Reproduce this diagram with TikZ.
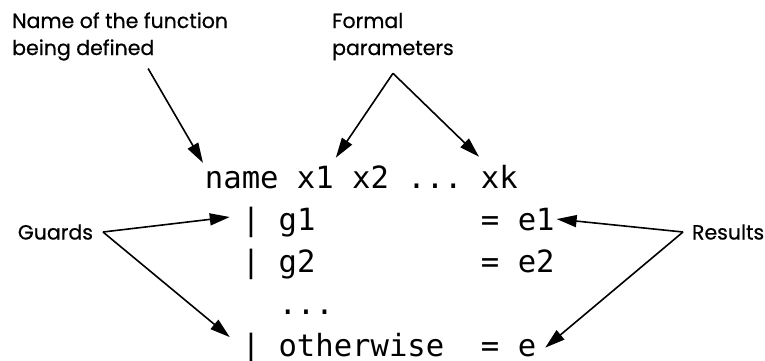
\documentclass[tikz,border=0pt]{standalone}
\usepackage{fontspec}
\setmainfont{Poppins}[FakeBold=0.6]
\setmonofont{DejaVu Sans Mono}
\usetikzlibrary{arrows.meta}

\begin{document}
\begin{tikzpicture}[x=1pt, y=-1pt,
  note/.style={font=\fontsize{20.5}{27}\selectfont, inner sep=0pt, anchor=base west},
  code/.style={font=\fontsize{30.6}{42}\selectfont\ttfamily, anchor=base, inner sep=0pt, outer xsep=2pt, outer ysep=8pt},
  bar/.style={code, outer xsep=12pt},
  pointer/.style={-{Triangle[length=20pt,width=12pt]}, line width=1.6pt}]
\useasboundingbox (0,0) rectangle (765,360);

% Labels
\node[note] (fnname) at (12,28) {Name of the function};
\node[note, outer ysep=8pt] (fnbeing) at (12,55) {being defined};
\node[note] (formal) at (332,28) {Formal};
\node[note, outer ysep=13pt] (params) at (332,55) {parameters};
\node[note, anchor=east, outer xsep=10pt] (guards) at (103,232) {Guards};
\node[note, anchor=west, outer xsep=9pt] (results) at (683,232) {Results};

% Header line
\node[code] (fname) at (241.8,188) {name};
\node[code] (x1) at (315.4,188) {x1};
\node[code] (x2) at (370.6,188) {x2};
\node[code] (hdots) at (435.0,188) {...};
\node[code] (xk) at (499.4,188) {xk};

% Guarded equations
\node[bar] (bar1) at (251.0,230) {|};
\node[code] (g1) at (297.0,230) {g1};
\node[code] (eq1) at (490.2,230) {=};
\node[code] (e1) at (536.2,230) {e1};

\node[bar] (bar2) at (251.0,272) {|};
\node[code] (g2) at (297.0,272) {g2};
\node[code] (eq2) at (490.2,272) {=};
\node[code] (e2) at (536.2,272) {e2};

\node[code] (vdots) at (306.2,314) {...};

\node[bar] (bar3) at (251.0,356) {|};
\node[code] (other) at (361.4,356) {otherwise};
\node[code] (eq3) at (490.2,356) {=};
\node[code, outer xsep=9pt] (e) at (527.0,356) {e};

% Pointers
\draw[pointer] (fnbeing.-16) -- (fname.north west);
\draw[pointer] (params.south) -- (x1.north east);
\draw[pointer] (params.south) -- (xk.north west);
\draw[pointer] (guards.east) -- (bar1.167);
\draw[pointer] (guards.east) -- (bar3.153);
\draw[pointer] (results.west) -- (e1.east);
\draw[pointer] (results.west) -- (e.east);
\end{tikzpicture}
\end{document}
